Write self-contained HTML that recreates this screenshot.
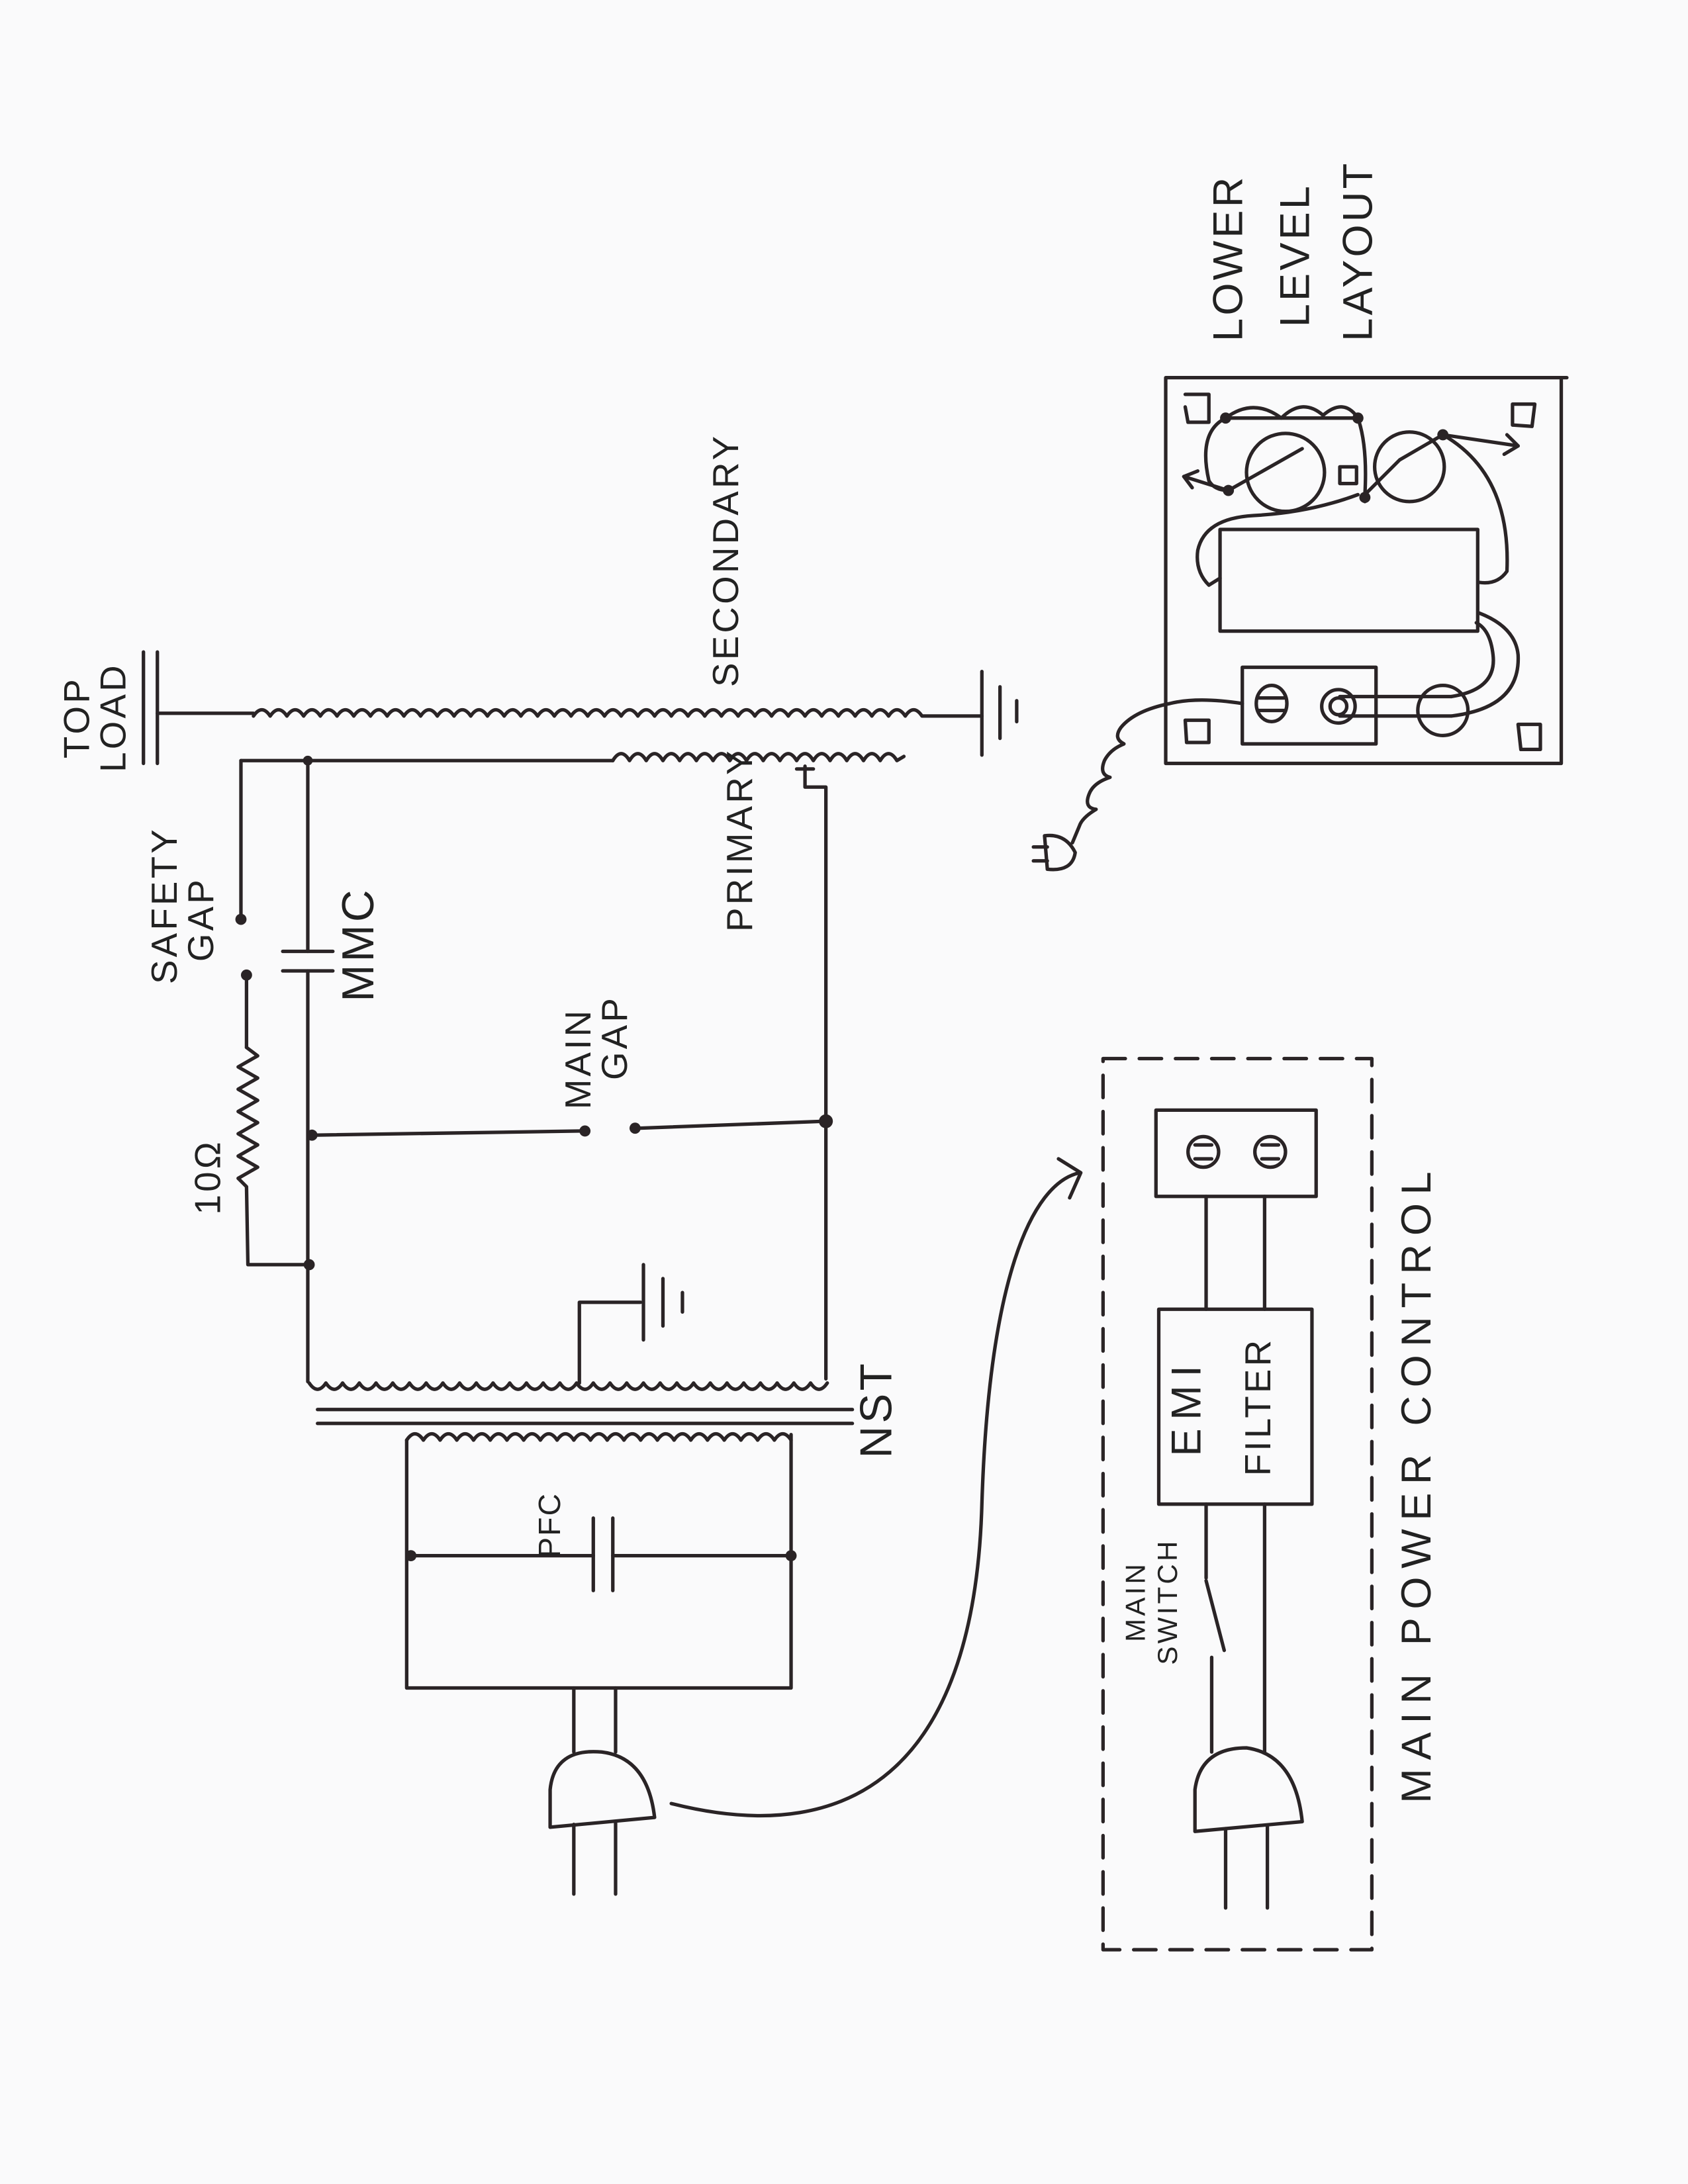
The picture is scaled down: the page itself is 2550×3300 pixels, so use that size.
<!DOCTYPE html>
<html><head><meta charset="utf-8"><style>
html,body{margin:0;padding:0;background:#fafafb;}
svg{display:block}
text{font-family:"Liberation Sans",sans-serif;fill:#222;}
</style></head><body>
<svg width="2550" height="3300" viewBox="0 0 1212 1568" xmlns="http://www.w3.org/2000/svg">
<rect width="1212" height="1568" fill="#fafafb"/>
<g fill="none" stroke="#2a2426" stroke-width="2.5" stroke-linecap="round" stroke-linejoin="round">
<line x1="103" y1="468" x2="103" y2="548"/><line x1="113" y1="468" x2="113" y2="548"/>
<line x1="113" y1="512" x2="182" y2="512"/>
<path d="M182,514 q6,-9 12,0 q6,-9 12,0 q6,-9 12,0 q6,-9 12,0 q6,-9 12,0 q6,-9 12,0 q6,-9 12,0 q6,-9 12,0 q6,-9 12,0 q6,-9 12,0 q6,-9 12,0 q6,-9 12,0 q6,-9 12,0 q6,-9 12,0 q6,-9 12,0 q6,-9 12,0 q6,-9 12,0 q6,-9 12,0 q6,-9 12,0 q6,-9 12,0 q6,-9 12,0 q6,-9 12,0 q6,-9 12,0 q6,-9 12,0 q6,-9 12,0 q6,-9 12,0 q6,-9 12,0 q6,-9 12,0 q6,-9 12,0 q6,-9 12,0 q6,-9 12,0 q6,-9 12,0 q6,-9 12,0 q6,-9 12,0 q6,-9 12,0 q6,-9 12,0 q6,-9 12,0 q6,-9 12,0 q6,-9 12,0 q6,-9 12,0 L705,514"/>
<line x1="705" y1="482" x2="705" y2="542"/><line x1="718" y1="493" x2="718" y2="530"/><line x1="730" y1="503" x2="730" y2="518"/>
<line x1="173" y1="546" x2="440" y2="546"/>
<path d="M440,546 q6,-10 12,0 q6,-10 12,0 q6,-10 12,0 q6,-10 12,0 q6,-10 12,0 q6,-10 12,0 q6,-10 12,0 q6,-10 12,0 q6,-10 12,0 q6,-10 12,0 q6,-10 12,0 q6,-10 12,0 q6,-10 12,0 q6,-10 12,0 q6,-10 12,0 q6,-10 12,0 q6,-10 12,0 l5,-3"/>
<path d="M578,550 L578,565 L593,565 L593,990"/>
<line x1="572" y1="552" x2="584" y2="552"/>
<line x1="173" y1="546" x2="173" y2="657"/>
<line x1="177" y1="703" x2="177" y2="752"/>
<path d="M177,752 l8,6 -14,8 14,8 -14,8 14,8 -14,8 14,8 -14,8 14,8 -14,8 14,8 -14,8 6,6 L178,908 L222,908"/>
<line x1="221" y1="546" x2="221" y2="683"/>
<line x1="221" y1="697" x2="221" y2="992"/>
<line x1="203" y1="683" x2="239" y2="683"/><line x1="203" y1="697" x2="239" y2="697"/>
<line x1="224" y1="815" x2="418" y2="812"/>
<line x1="458" y1="810" x2="593" y2="805"/>
<path d="M222,993 q6,9 12,0 q6,9 12,0 q6,9 12,0 q6,9 12,0 q6,9 12,0 q6,9 12,0 q6,9 12,0 q6,9 12,0 q6,9 12,0 q6,9 12,0 q6,9 12,0 q6,9 12,0 q6,9 12,0 q6,9 12,0 q6,9 12,0 q6,9 12,0 q6,9 12,0 q6,9 12,0 q6,9 12,0 q6,9 12,0 q6,9 12,0 q6,9 12,0 q6,9 12,0 q6,9 12,0 q6,9 12,0 q6,9 12,0 q6,9 12,0 q6,9 12,0 q6,9 12,0 q6,9 12,0 q6,9 12,0"/>
<path d="M416,993 L416,935 L460,935"/>
<line x1="462" y1="908" x2="462" y2="962"/><line x1="476" y1="918" x2="476" y2="952"/><line x1="490" y1="928" x2="490" y2="942"/>
<line x1="228" y1="1012" x2="612" y2="1012"/><line x1="228" y1="1022" x2="612" y2="1022"/>
<path d="M292,1034 q6,-9 12,0 q6,-9 12,0 q6,-9 12,0 q6,-9 12,0 q6,-9 12,0 q6,-9 12,0 q6,-9 12,0 q6,-9 12,0 q6,-9 12,0 q6,-9 12,0 q6,-9 12,0 q6,-9 12,0 q6,-9 12,0 q6,-9 12,0 q6,-9 12,0 q6,-9 12,0 q6,-9 12,0 q6,-9 12,0 q6,-9 12,0 q6,-9 12,0 q6,-9 12,0 q6,-9 12,0 q6,-9 12,0 l0,0"/>
<path d="M292,1034 L292,1212 L568,1212 L568,1030"/>
<line x1="295" y1="1117" x2="426" y2="1117"/><line x1="440" y1="1117" x2="568" y2="1117"/>
<line x1="426" y1="1090" x2="426" y2="1142"/><line x1="440" y1="1090" x2="440" y2="1142"/>
<line x1="412" y1="1212" x2="412" y2="1258"/><line x1="442" y1="1212" x2="442" y2="1258"/>
<path d="M395,1312 L395,1285 Q398,1255 432,1258 Q465,1262 470,1305 L395,1312"/>
<line x1="412" y1="1310" x2="412" y2="1360"/><line x1="442" y1="1308" x2="442" y2="1360"/>
<path d="M482,1295 C620,1330 700,1260 705,1080 C710,920 740,850 775,842"/>
<path d="M760,832 L776,842 L768,860"/>
<rect x="792" y="760" width="193" height="640" stroke-dasharray="16,10"/>
<rect x="830" y="797" width="115" height="62"/>
<circle cx="864" cy="827" r="11"/><line x1="858" y1="822" x2="870" y2="822"/><line x1="858" y1="832" x2="870" y2="832"/>
<circle cx="912" cy="827" r="11"/><line x1="906" y1="822" x2="918" y2="822"/><line x1="906" y1="832" x2="918" y2="832"/>
<line x1="866" y1="859" x2="866" y2="940"/><line x1="908" y1="859" x2="908" y2="940"/>
<rect x="832" y="940" width="110" height="140"/>
<line x1="866" y1="1080" x2="866" y2="1133"/>
<line x1="866" y1="1135" x2="879" y2="1185"/>
<line x1="870" y1="1190" x2="870" y2="1258"/>
<line x1="908" y1="1080" x2="908" y2="1258"/>
<path d="M858,1315 L858,1285 Q862,1255 895,1255 Q930,1260 935,1308 L858,1315"/>
<line x1="880" y1="1313" x2="880" y2="1370"/><line x1="910" y1="1311" x2="910" y2="1370"/>
<path d="M837,271 L837,548 L1121,548 L1121,271 L837,271 L1125,271"/>
<rect x="876" y="380" width="185" height="73"/>
<rect x="892" y="479" width="96" height="55"/>
<ellipse cx="913" cy="505" rx="11" ry="13"/><line x1="904" y1="501" x2="922" y2="501"/><line x1="904" y1="510" x2="922" y2="510"/>
<circle cx="961" cy="507" r="12"/><circle cx="961" cy="507" r="6"/>
<circle cx="1036" cy="510" r="18"/>
<line x1="962" y1="500" x2="1042" y2="500"/><line x1="962" y1="514" x2="1042" y2="514"/>
<path d="M1042,500 Q1075,495 1072,470 Q1070,452 1060,447"/>
<path d="M1042,514 Q1092,508 1090,470 Q1088,450 1062,440"/>
<circle cx="923" cy="339" r="28"/>
<circle cx="1012" cy="335" r="25"/>
<path d="M880,300 L975,300 Q982,320 980,355 L980,360"/>
<path d="M880,300 Q860,310 868,345 Q872,352 882,352 L935,322"/>
<path d="M882,352 L850,342"/><path d="M860,338 L850,342 L856,350"/>
<rect x="962" y="335" width="12" height="12"/>
<path d="M975,355 Q940,368 900,370 Q865,372 860,395 Q858,410 868,420 L876,415"/>
<path d="M980,355 L1005,330 L1036,312 L1090,320"/><path d="M1082,312 L1090,320 L1080,326"/>
<path d="M1036,312 Q1085,340 1082,410 Q1075,420 1062,418"/>
<path d="M880,300 Q900,285 920,300 Q935,285 950,298 Q965,285 975,300"/>
<path d="M851,283 L868,283 L868,303 L853,303 L851,292"/>
<path d="M1086,290 L1102,290 L1100,306 L1086,305 Z"/>
<path d="M851,517 L868,517 L868,533 L852,533 Z"/>
<path d="M1090,520 L1106,520 L1106,538 L1092,538 Z"/>
<path d="M892,505 Q860,500 840,505 Q815,510 805,522 q-6,8 2,12 q-10,4 -14,12 q-4,10 4,12 q-12,4 -15,12 q-4,10 5,11 q-10,6 -12,12 L770,605"/>
<path d="M750,600 Q765,598 772,612 Q770,626 752,624 Z"/>
<line x1="742" y1="608" x2="752" y2="608"/><line x1="742" y1="618" x2="752" y2="618"/>
</g>
<g fill="#2a2426">
<circle cx="173" cy="660" r="4"/><circle cx="177" cy="700" r="4"/>
<circle cx="221" cy="546" r="3.5"/><circle cx="224" cy="815" r="4"/><circle cx="222" cy="908" r="4"/>
<circle cx="420" cy="812" r="4"/><circle cx="456" cy="810" r="4"/><circle cx="593" cy="805" r="5"/>
<circle cx="295" cy="1117" r="4"/><circle cx="568" cy="1117" r="4"/>
<circle cx="880" cy="300" r="4"/><circle cx="975" cy="300" r="4"/><circle cx="882" cy="352" r="4"/><circle cx="1036" cy="312" r="4"/><circle cx="980" cy="357" r="4"/>
</g>
<g font-size="26" letter-spacing="2">
<text transform="translate(64,515) rotate(-90)" text-anchor="middle">TOP</text>
<text transform="translate(90,515) rotate(-90)" text-anchor="middle">LOAD</text>
<text transform="translate(127,650) rotate(-90)" text-anchor="middle">SAFETY</text>
<text transform="translate(153,660) rotate(-90)" text-anchor="middle">GAP</text>
<text transform="translate(268,678) rotate(-90)" text-anchor="middle" font-size="32">MMC</text>
<text transform="translate(158,845) rotate(-90)" text-anchor="middle">10Ω</text>
<text transform="translate(424,760) rotate(-90)" text-anchor="middle">MAIN</text>
<text transform="translate(450,745) rotate(-90)" text-anchor="middle">GAP</text>
<text transform="translate(540,603) rotate(-90)" text-anchor="middle">PRIMARY</text>
<text transform="translate(530,402) rotate(-90)" text-anchor="middle">SECONDARY</text>
<text transform="translate(640,1012) rotate(-90)" text-anchor="middle" font-size="32">NST</text>
<text transform="translate(402,1095) rotate(-90)" text-anchor="middle" font-size="22" letter-spacing="1">PFC</text>
<text transform="translate(862,1010) rotate(-90)" text-anchor="middle" font-size="30" letter-spacing="6">EMI</text>
<text transform="translate(912,1010) rotate(-90)" text-anchor="middle" font-size="26">FILTER</text>
<text transform="translate(822,1150) rotate(-90)" text-anchor="middle" font-size="20">MAIN</text>
<text transform="translate(845,1150) rotate(-90)" text-anchor="middle" font-size="20">SWITCH</text>
<text transform="translate(1027,1065) rotate(-90)" text-anchor="middle" font-size="30" letter-spacing="6">MAIN  POWER  CONTROL</text>
<text transform="translate(892,185) rotate(-90)" text-anchor="middle" font-size="30">LOWER</text>
<text transform="translate(940,183) rotate(-90)" text-anchor="middle" font-size="30">LEVEL</text>
<text transform="translate(985,180) rotate(-90)" text-anchor="middle" font-size="30">LAYOUT</text>
</g>
</svg>
</body></html>
